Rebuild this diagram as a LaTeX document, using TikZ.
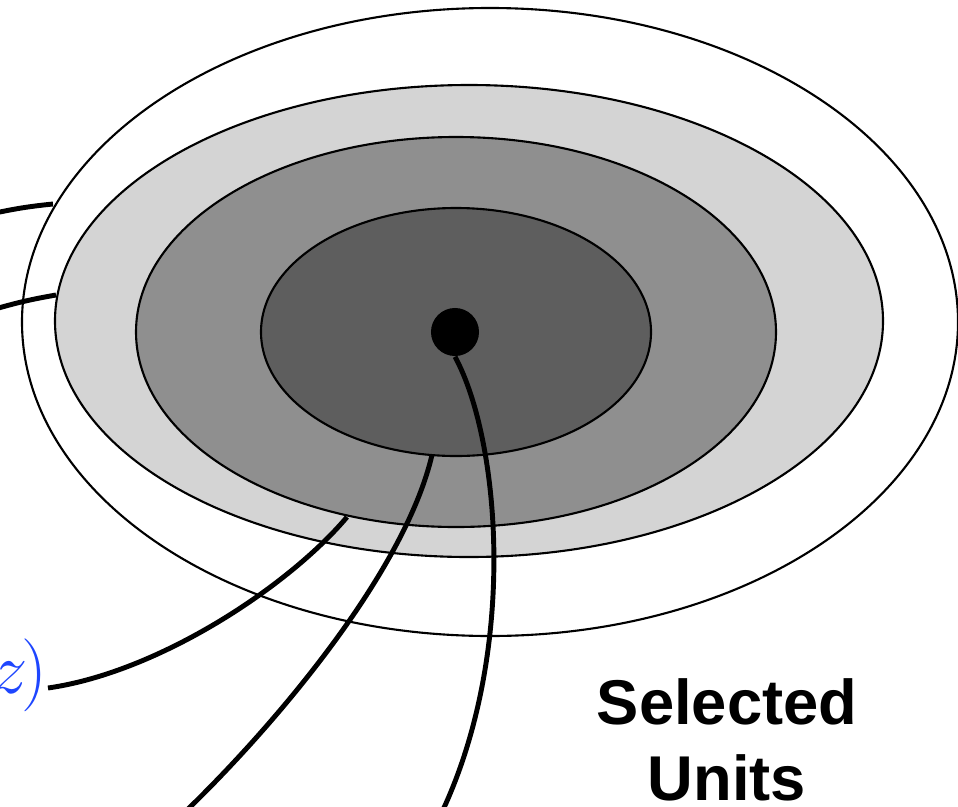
\documentclass[tikz,border=0pt]{standalone}
\usepackage{fontspec}
\newfontfamily\helv{Liberation Sans}
\definecolor{lightg}{HTML}{D4D4D4}
\definecolor{midg}{HTML}{8F8F8F}
\definecolor{darkg}{HTML}{5E5E5E}
\definecolor{zblue}{RGB}{30,70,255}
\tikzset{
  ring/.style={draw=black, line width=0.6pt},
  conn/.style={draw=black, line width=1.4pt},
}
\begin{document}
\begin{tikzpicture}[x=0.01cm,y=-0.01cm]
\useasboundingbox (0,0) rectangle (958,806);
\clip (0,0) rectangle (958,806);
% rings
\draw[ring, fill=white] (490,322) ellipse [x radius=468, y radius=314];
\draw[ring, fill=lightg] (469,321) ellipse [x radius=414, y radius=236];
\draw[ring, fill=midg] (456,332) ellipse [x radius=320, y radius=195];
\draw[ring, fill=darkg] (456,332) ellipse [x radius=195, y radius=124];
\node[circle, fill=black, inner sep=0pt, minimum size=0.48cm] (dot) at (455,332) {};
% anchor points
\coordinate (a0) at (-5,213);
\coordinate (a1) at (53,204);
\coordinate (b0) at (-5,309);
\coordinate (b1) at (56,295);
\coordinate (c0) at (48,688);
\coordinate (c1) at (347,517);
\coordinate (d0) at (185,812);
\coordinate (d1) at (432,455);
\coordinate (e0) at (442,812);
% label
\node[text=zblue, font=\fontsize{21}{23}\selectfont, anchor=base east, inner sep=0pt] (zl) at (48,693) {$z\mskip-1.5mu)$};
\node[font=\helv\bfseries\fontsize{18}{21.5}\selectfont, align=center] (sel) at (727,740) {Selected\\Units};
% connectors
\draw[conn] (a0) to[bend left=3] (a1);
\draw[conn] (b0) to[bend left=3] (b1);
\draw[conn] (c0) .. controls (160,672) and (290,585) .. (c1);
\draw[conn] (d0) .. controls (280,720) and (405,570) .. (d1);
\draw[conn] (e0) .. controls (518,650) and (500,440) .. (dot.south);
\end{tikzpicture}
\end{document}
